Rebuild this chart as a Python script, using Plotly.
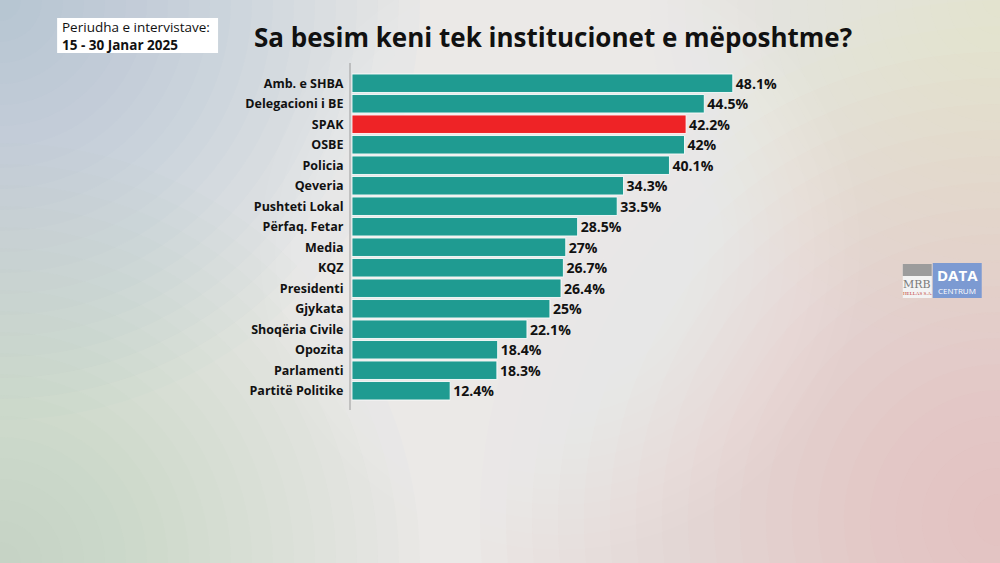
import plotly.graph_objects as go

categories = ["Amb. e SHBA", "Delegacioni i BE", "SPAK", "OSBE", "Policia", "Qeveria",
              "Pushteti Lokal", "Përfaq. Fetar", "Media", "KQZ", "Presidenti", "Gjykata",
              "Shoqëria Civile", "Opozita", "Parlamenti", "Partitë Politike"]
values = [48.1, 44.5, 42.2, 42, 40.1, 34.3, 33.5, 28.5, 27, 26.7, 26.4, 25, 22.1, 18.4, 18.3, 12.4]
value_labels = ["48.1%", "44.5%", "42.2%", "42%", "40.1%", "34.3%", "33.5%", "28.5%", "27%",
                "26.7%", "26.4%", "25%", "22.1%", "18.4%", "18.3%", "12.4%"]
highlight = "SPAK"

TEAL = "#1f9b91"
RED = "#ee2326"
colors = [RED if c == highlight else TEAL for c in categories]

W, H = 1000, 563
FONT = "Open Sans"

LEFT, TOP, BOTTOM_Y = 352, 73, 401
XMAX = 60
PX_PER_UNIT = 7.92
plot_w = XMAX * PX_PER_UNIT
plot_h = BOTTOM_Y - TOP

fig = go.Figure(go.Bar(
    x=values, y=categories, orientation="h",
    marker=dict(color=colors, line=dict(color="rgba(255,255,255,0.85)", width=1)),
    text=[f"<b>{t}</b>" for t in value_labels], textposition="outside", cliponaxis=False,
    textfont=dict(family=FONT, size=14.5, color="#111111"),
    hoverinfo="skip",
))

# convert figure pixels to plot-area "paper" coordinates
def px(x):
    return (x - LEFT) / plot_w

def py(y):
    return (BOTTOM_Y - y) / plot_h

shapes = []

def blob(cx, cy, rmax, color, n=20, alpha=0.035):
    for i in range(n):
        r = rmax * (1 - i / n)
        shapes.append(dict(type="circle", xref="paper", yref="paper", layer="below",
                           x0=px(cx - r), x1=px(cx + r), y0=py(cy + r), y1=py(cy - r),
                           fillcolor=color, opacity=alpha, line=dict(width=0)))

blob(0, 0, 420, "#9fb4c6", alpha=0.04)
blob(0, 563, 420, "#a9d2b4", alpha=0.04)
blob(1000, 520, 520, "#e8a9a6", alpha=0.035)
blob(1000, 0, 350, "#eed7c8", alpha=0.035)
blob(560, 250, 300, "#f6f5f3", alpha=0.04)

# axis line
shapes.append(dict(type="line", xref="paper", yref="paper", x0=px(350), x1=px(350),
                   y0=py(410), y1=py(63), line=dict(color="#9a9a9a", width=1)))
# period box
shapes.append(dict(type="rect", xref="paper", yref="paper", x0=px(57), x1=px(218),
                   y0=py(53), y1=py(18), fillcolor="white", line=dict(width=0)))
# logo
shapes.append(dict(type="rect", xref="paper", yref="paper", x0=px(903), x1=px(932),
                   y0=py(298), y1=py(264), fillcolor="#f3f3f3", line=dict(width=0)))
shapes.append(dict(type="rect", xref="paper", yref="paper", x0=px(903), x1=px(932),
                   y0=py(276), y1=py(264), fillcolor="#9c9c9c", line=dict(width=0)))
shapes.append(dict(type="rect", xref="paper", yref="paper", x0=px(933), x1=px(982),
                   y0=py(298), y1=py(263), fillcolor="#7c9ad2", line=dict(width=0)))

annotations = [
    dict(text="<b>Sa besim keni tek institucionet e mëposhtme?</b>", xref="paper", yref="paper",
         x=px(553), y=py(37), xanchor="center", yanchor="middle", showarrow=False,
         font=dict(family=FONT, size=26, color="#111111")),
    dict(text="Periudha e intervistave:<br><b>15 - 30 Janar 2025</b>", xref="paper", yref="paper",
         x=px(60), y=py(36), xanchor="left", yanchor="middle", align="left", showarrow=False,
         font=dict(family=FONT, size=13.5, color="#111111")),
    dict(text="MRB", xref="paper", yref="paper", x=px(917.5), y=py(284),
         xanchor="center", yanchor="middle", showarrow=False,
         font=dict(family="DejaVu Serif", size=11, color="#7a7a7a")),
    dict(text="HELLAS S.A.", xref="paper", yref="paper", x=px(917.5), y=py(293.5),
         xanchor="center", yanchor="middle", showarrow=False,
         font=dict(family="Liberation Serif", size=5, color="#c0392b")),
    dict(text="<b>DATA</b>", xref="paper", yref="paper", x=px(957.5), y=py(275),
         xanchor="center", yanchor="middle", showarrow=False,
         font=dict(family=FONT, size=15, color="white")),
    dict(text="CENTRUM", xref="paper", yref="paper", x=px(957.5), y=py(290),
         xanchor="center", yanchor="middle", showarrow=False,
         font=dict(family=FONT, size=8, color="white")),
]

fig.update_layout(
    width=W, height=H,
    margin=dict(l=LEFT, r=W - LEFT - plot_w, t=TOP, b=H - BOTTOM_Y, pad=0),
    paper_bgcolor="#ebe9e7", plot_bgcolor="rgba(0,0,0,0)",
    bargap=0.1, showlegend=False,
    xaxis=dict(range=[0, XMAX], visible=False, fixedrange=True),
    yaxis=dict(autorange="reversed", showgrid=False, zeroline=False, showline=False,
               ticks="outside", ticklen=5, tickcolor="rgba(0,0,0,0)",
               tickfont=dict(family=FONT, size=12.5, color="#111111"),
               ticklabelstandoff=0),
    shapes=shapes, annotations=annotations,
)
fig.update_yaxes(tickvals=categories, ticktext=[f"<b>{c}</b>" for c in categories])

fig.write_html("out.html")
